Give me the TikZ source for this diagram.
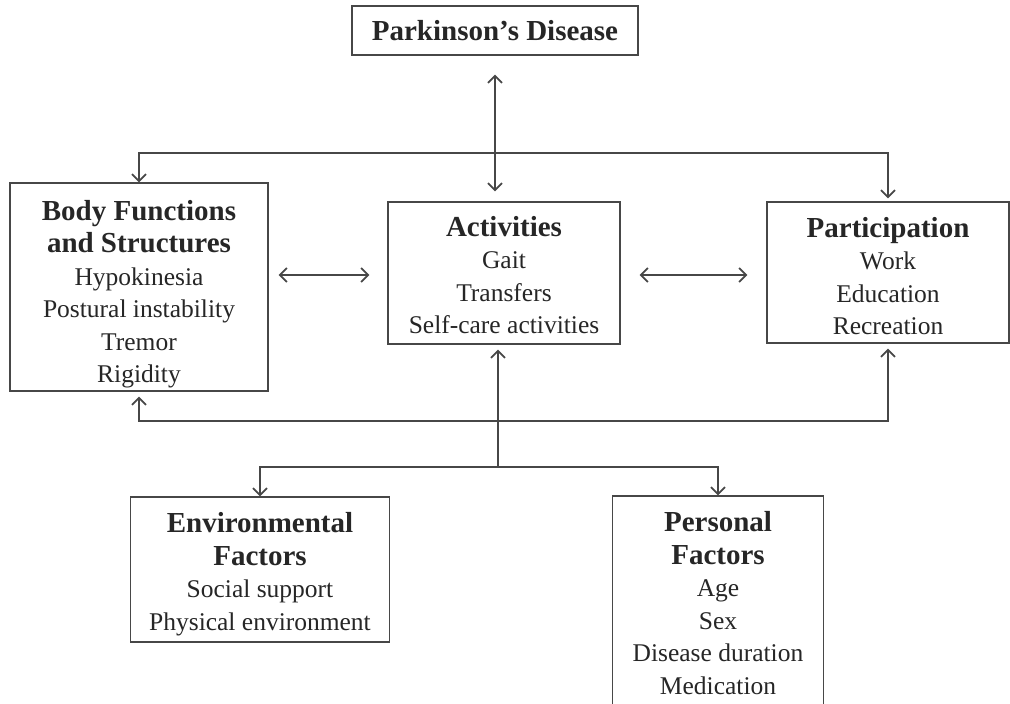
\documentclass[tikz,border=0pt]{standalone}
\usepackage{fontspec}
\setmainfont{Liberation Serif}
\usepackage{xcolor}
\usetikzlibrary{arrows.meta, positioning}
\colorlet{linegray}{black!72}
\newcommand{\boxhead}[1]{{\fontsize{29pt}{32.5pt}\selectfont\bfseries #1}}
\newcommand{\pushdown}[1]{\rule{0pt}{#1}}

\begin{document}
\begin{tikzpicture}[x=1pt, y=-1pt, >={Straight Barb[length=7pt,width=14pt,line width=1.8pt]},
    box/.style={draw=linegray, line width=1.2pt, rectangle, align=center, inner sep=0pt, text=black!85, font=\fontsize{25.5pt}{32.5pt}\selectfont},
    link/.style={linegray, line width=1.2pt}]
    \useasboundingbox (0,0) rectangle (1010,704);

    % Disease
    \node (pd) [box, minimum width=286pt, minimum height=49pt] at (495,30.5) {\boxhead{Parkinson’s Disease}};

    % Middle Row
    \node (act) [box, minimum width=232pt, minimum height=142pt] at (504,273) {\boxhead{\pushdown{24pt}Activities}\\Gait\\Transfers\\Self-care activities};
    \node (body) [box, minimum width=258pt, minimum height=208pt] at (139,287) {\boxhead{\pushdown{34pt}Body Functions}\\\boxhead{and Structures}\\Hypokinesia\\Postural instability\\Tremor\\Rigidity};
    \node (part) [box, minimum width=242pt, minimum height=141pt] at (888,272.5) {\boxhead{\pushdown{27pt}Participation}\\Work\\Education\\Recreation};

    % Contextual Factors
    \node (env) [box, minimum width=259pt, minimum height=145pt] at (260,569.5) {\boxhead{\pushdown{29pt}Environmental}\\\boxhead{Factors}\\Social support\\Physical environment};
    \node (pers) [box, minimum width=211pt, minimum height=214pt] at (718,603) {\boxhead{Personal}\\\boxhead{Factors}\\Age\\Sex\\Disease duration\\Medication};

    % Helper Coordinates
    \coordinate (ytop) at (0,153);
    \coordinate (ymid) at (0,275);
    \coordinate (ybot) at (0,421);
    \coordinate (split) at (498,467);

    % Disease to Activities
    \draw[link, <->, shorten <=19pt, shorten >=10pt] (pd.south) -- (pd.south |- act.north);

    % Outer Loops
    \draw[link, <->, shorten >=3pt] (body.north) |- (ytop -| part.north) -- (part.north);
    \draw[link, <->, shorten <=5pt, shorten >=5pt] (body.south) |- (ybot -| part.south) -- (part.south);

    % Row Connectors
    \draw[link, <->, shorten <=10pt, shorten >=18pt] (body.east |- ymid) -- (act.west |- ymid);
    \draw[link, <->, shorten <=19pt, shorten >=19pt] (act.east |- ymid) -- (part.west |- ymid);

    % Factors Branch
    \draw[link, ->, shorten >=5pt] (split) -- (split |- act.south);
    \draw[link, <->] (env.north) |- (split -| pers.north) -- (pers.north);
\end{tikzpicture}
\end{document}
